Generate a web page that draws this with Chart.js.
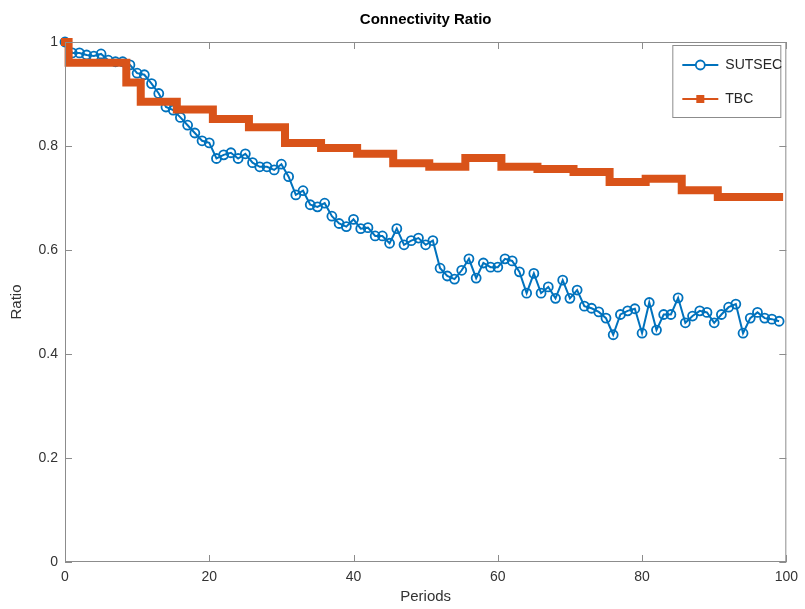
<!DOCTYPE html>
<html>
<head>
<meta charset="utf-8">
<script src="https://cdn.jsdelivr.net/npm/chart.js@4.4.0/dist/chart.umd.min.js"></script>
<style>
    html, body { margin: 0; padding: 0; background: #fff; }
    #wrap { width: 805px; height: 609px; }
</style>
</head>
<body>
<div id="wrap"><canvas id="connectivity" width="805" height="609"></canvas></div>
<script>
// periods on the x axis
const periods = [
    0, 1, 2, 3, 4, 5, 6, 7, 8, 9, 10, 11, 12, 13, 14, 15, 16, 17, 18, 19,
    20, 21, 22, 23, 24, 25, 26, 27, 28, 29, 30, 31, 32, 33, 34, 35, 36, 37, 38, 39,
    40, 41, 42, 43, 44, 45, 46, 47, 48, 49, 50, 51, 52, 53, 54, 55, 56, 57, 58, 59,
    60, 61, 62, 63, 64, 65, 66, 67, 68, 69, 70, 71, 72, 73, 74, 75, 76, 77, 78, 79,
    80, 81, 82, 83, 84, 85, 86, 87, 88, 89, 90, 91, 92, 93, 94, 95, 96, 97, 98, 99
];

const sutsec = [
    1.000, 0.979, 0.979, 0.975, 0.973, 0.977, 0.965, 0.962, 0.962, 0.956,
    0.940, 0.937, 0.920, 0.901, 0.875, 0.869, 0.855, 0.840, 0.825, 0.810,
    0.806, 0.776, 0.783, 0.787, 0.776, 0.785, 0.768, 0.760, 0.760, 0.754,
    0.765, 0.741, 0.706, 0.714, 0.687, 0.683, 0.690, 0.665, 0.651, 0.645,
    0.659, 0.641, 0.643, 0.627, 0.627, 0.613, 0.641, 0.610, 0.618, 0.623,
    0.610, 0.618, 0.565, 0.550, 0.544, 0.561, 0.583, 0.546, 0.575, 0.567,
    0.567, 0.583, 0.579, 0.558, 0.517, 0.555, 0.517, 0.529, 0.507, 0.542,
    0.507, 0.523, 0.492, 0.488, 0.481, 0.469, 0.437, 0.476, 0.483, 0.487,
    0.440, 0.499, 0.446, 0.476, 0.476, 0.508, 0.460, 0.473, 0.483, 0.480,
    0.460, 0.476, 0.490, 0.496, 0.440, 0.469, 0.480, 0.469, 0.467, 0.463
];

const tbc = [
    1.000, 0.960, 0.960, 0.960, 0.960, 0.960, 0.960, 0.960, 0.960, 0.922,
    0.922, 0.885, 0.885, 0.885, 0.885, 0.885, 0.870, 0.870, 0.870, 0.870,
    0.870, 0.852, 0.852, 0.852, 0.852, 0.852, 0.836, 0.836, 0.836, 0.836,
    0.836, 0.806, 0.806, 0.806, 0.806, 0.806, 0.796, 0.796, 0.796, 0.796,
    0.796, 0.785, 0.785, 0.785, 0.785, 0.785, 0.767, 0.767, 0.767, 0.767,
    0.767, 0.760, 0.760, 0.760, 0.760, 0.760, 0.777, 0.777, 0.777, 0.777,
    0.777, 0.760, 0.760, 0.760, 0.760, 0.760, 0.756, 0.756, 0.756, 0.756,
    0.756, 0.750, 0.750, 0.750, 0.750, 0.750, 0.731, 0.731, 0.731, 0.731,
    0.731, 0.737, 0.737, 0.737, 0.737, 0.737, 0.715, 0.715, 0.715, 0.715,
    0.715, 0.702, 0.702, 0.702, 0.702, 0.702, 0.702, 0.702, 0.702, 0.702
];

const xTicks = [0, 20, 40, 60, 80, 100];
const yTicks = [0, 0.2, 0.4, 0.6, 0.8, 1];

const BLUE = '#0072BD';
const ORANGE = '#D95319';
const FONT = "'Liberation Sans', Arial, Helvetica, sans-serif";

const toPoints = function (values) {
    return periods.map((p, i) => ({ x: p, y: values[i] }));
};

// matlab style box with inward ticks on all four sides
const axesBox = {
    id: 'axesBox',
    afterDatasetsDraw(chart) {
        const { ctx, chartArea: a, scales: { x, y } } = chart;
        const len = 7;
        ctx.save();
        ctx.strokeStyle = '#8c8c8c';
        ctx.lineWidth = 1;
        ctx.strokeRect(a.left + 0.5, a.top + 0.5, a.right - a.left - 1, a.bottom - a.top - 1);
        ctx.beginPath();
        xTicks.forEach(v => {
            const px = Math.round(x.getPixelForValue(v)) + 0.5;
            ctx.moveTo(px, a.bottom);
            ctx.lineTo(px, a.bottom - len);
            ctx.moveTo(px, a.top);
            ctx.lineTo(px, a.top + len);
        });
        yTicks.forEach(v => {
            const py = Math.round(y.getPixelForValue(v)) + 0.5;
            ctx.moveTo(a.left, py);
            ctx.lineTo(a.left + len, py);
            ctx.moveTo(a.right, py);
            ctx.lineTo(a.right - len, py);
        });
        ctx.stroke();
        ctx.restore();
    }
};

// legend box in the north east corner, line sample + marker like matlab
const matlabLegend = {
    id: 'matlabLegend',
    afterDraw(chart) {
        const { ctx, chartArea: a } = chart;
        const box = { left: a.right - 114, top: a.top + 3, w: 108, h: 72 };
        ctx.save();
        ctx.fillStyle = '#fff';
        ctx.fillRect(box.left, box.top, box.w, box.h);
        ctx.strokeStyle = '#8c8c8c';
        ctx.lineWidth = 1;
        ctx.strokeRect(box.left + 0.5, box.top + 0.5, box.w, box.h);

        const rows = [
            { label: 'SUTSEC', color: BLUE, y: box.top + 20, marker: 'circle' },
            { label: 'TBC', color: ORANGE, y: box.top + 54, marker: 'square' }
        ];
        rows.forEach(r => {
            const x0 = box.left + 10, x1 = box.left + 46, xm = (x0 + x1) / 2;
            ctx.strokeStyle = r.color;
            ctx.lineWidth = 2;
            ctx.beginPath();
            ctx.moveTo(x0, r.y);
            ctx.lineTo(x1, r.y);
            ctx.stroke();
            if (r.marker == 'circle') {
                ctx.lineWidth = 1.8;
                ctx.beginPath();
                ctx.arc(xm, r.y, 4.5, 0, Math.PI * 2);
                ctx.fillStyle = '#fff';
                ctx.fill();
                ctx.stroke();
            } else {
                ctx.fillStyle = r.color;
                ctx.fillRect(xm - 4, r.y - 4, 8, 8);
            }
            ctx.fillStyle = '#262626';
            ctx.font = '14px ' + FONT;
            ctx.textBaseline = 'middle';
            ctx.textAlign = 'left';
            ctx.fillText(r.label, box.left + 53, r.y);
        });
        ctx.restore();
    }
};

new Chart(
    document.getElementById('connectivity'),
    {
        type: 'line',
        data: {
            datasets: [{
                label: 'SUTSEC',
                data: toPoints(sutsec),
                borderColor: BLUE,
                borderWidth: 2,
                pointStyle: 'circle',
                pointRadius: 4.5,
                pointBorderWidth: 1.8,
                pointBorderColor: BLUE,
                pointBackgroundColor: 'rgba(255,255,255,0)',
                tension: 0,
                order: 2,
                clip: false
            },
            {
                label: 'TBC',
                data: toPoints(tbc),
                borderColor: ORANGE,
                borderWidth: 8,
                stepped: 'middle',
                pointRadius: 0,
                borderCapStyle: 'square',
                order: 1,
                clip: false
            }]
        },
        plugins: [axesBox, matlabLegend],
        options: {
            responsive: false,
            animation: false,
            layout: {
                padding: { left: 0, right: 16, top: 0, bottom: 0 }
            },
            plugins: {
                legend: { display: false },
                tooltip: { enabled: false },
                title: {
                    display: true,
                    text: 'Connectivity Ratio',
                    fullSize: false,
                    color: '#000',
                    font: { family: FONT, size: 15, weight: 'bold' },
                    padding: { top: 11, bottom: 13 }
                }
            },
            scales: {
                x: {
                    type: 'linear',
                    min: 0,
                    max: 100,
                    grid: { display: false, drawTicks: false },
                    border: { display: false },
                    afterFit: function (scale) { scale.height = 47; },
                    afterBuildTicks: function (scale) {
                        scale.ticks = xTicks.map(v => ({ value: v }));
                    },
                    ticks: {
                        padding: 7,
                        color: '#333',
                        maxRotation: 0,
                        font: { family: FONT, size: 14 }
                    },
                    title: {
                        display: true,
                        text: 'Periods',
                        color: '#333',
                        font: { family: FONT, size: 15 },
                        padding: { top: 0, bottom: 3 }
                    }
                },
                y: {
                    min: 0,
                    max: 1,
                    grid: { display: false, drawTicks: false },
                    border: { display: false },
                    afterFit: function (scale) { scale.width = 65; },
                    afterBuildTicks: function (scale) {
                        scale.ticks = yTicks.map(v => ({ value: v }));
                    },
                    ticks: {
                        padding: 7,
                        color: '#333',
                        font: { family: FONT, size: 14 },
                        callback: function (value) { return String(Math.round(value * 10) / 10); }
                    },
                    title: {
                        display: true,
                        text: 'Ratio',
                        color: '#333',
                        font: { family: FONT, size: 15 },
                        padding: { top: 8, bottom: 0 }
                    }
                }
            }
        }
    });
</script>
</body>
</html>
